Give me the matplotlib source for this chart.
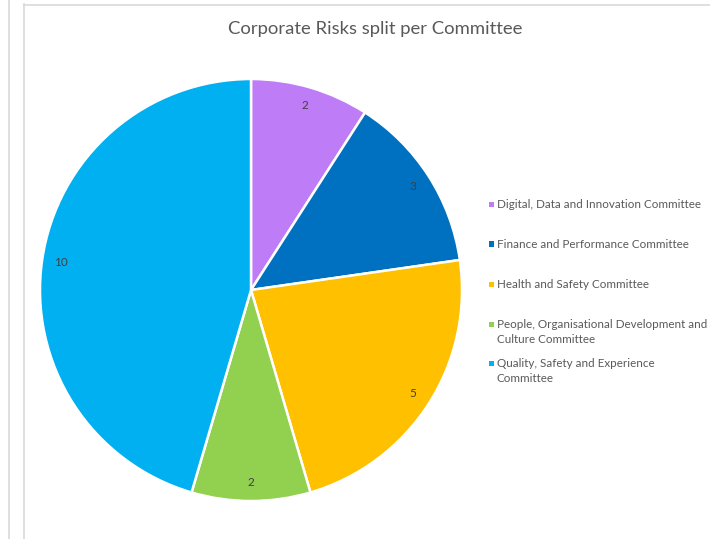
import matplotlib.pyplot as plt
from matplotlib.patches import Rectangle
from matplotlib.lines import Line2D

committees = [
    "Digital, Data and Innovation Committee",
    "Finance and Performance Committee",
    "Health and Safety Committee",
    "People, Organisational Development and\nCulture Committee",
    "Quality, Safety and Experience\nCommittee",
]
risk_counts = [2, 3, 5, 2, 10]
colours = ["#BF7CF7", "#0070C0", "#FFC000", "#92D050", "#00B0F0"]

plt.rcParams['font.family'] = ['Lato', 'DejaVu Sans']

fig = plt.figure(figsize=(7.10, 5.39), dpi=100)

# panel borders
fig.add_artist(Line2D([8.5 / 710, 8.5 / 710], [0, 1], color="#d9d9d9", lw=1.2))
fig.add_artist(Line2D([23.5 / 710, 23.5 / 710], [0, 1 - 4 / 539], color="#d9d9d9", lw=1.2))
fig.add_artist(Line2D([23.5 / 710, 1], [1 - 4.5 / 539, 1 - 4.5 / 539], color="#d9d9d9", lw=1.2))

# pie centred at (251, 290) px with a radius of about 211 px
cx, cy, r = 251, 290, 211
ax = fig.add_axes([(cx - r) / 710, 1 - (cy + r) / 539, 2 * r / 710, 2 * r / 539])
wedges, texts = ax.pie(
    risk_counts, colors=colours, startangle=90, counterclock=False,
    labels=[str(v) for v in risk_counts], labeldistance=0.91, radius=1,
    wedgeprops=dict(edgecolor="white", linewidth=1.8),
    textprops=dict(color="#404040", fontsize=8.5),
)
for t in texts:
    t.set_ha("center")
    t.set_va("center")
ax.set_xlim(-1, 1)
ax.set_ylim(-1, 1)
ax.set_aspect('equal')
ax.axis('off')

fig.text(375 / 710, 1 - 29 / 539, "Corporate Risks split per Committee",
         ha="center", va="center", fontsize=13.3, color="#595959")

# legend, drawn by hand so the wrapped entries sit like the original
legend_y = [204, 244, 284, 324, 363]
for name, col, y in zip(committees, colours, legend_y):
    fig.add_artist(Rectangle((489 / 710, 1 - (y + 2.5) / 539), 5 / 710, 5 / 539,
                             facecolor=col, edgecolor="none"))
    fig.text(497 / 710, 1 - (y - 5) / 539, name, ha="left", va="top",
             fontsize=8.4, color="#595959", linespacing=1.4)

fig.savefig("out.png", dpi=100)
